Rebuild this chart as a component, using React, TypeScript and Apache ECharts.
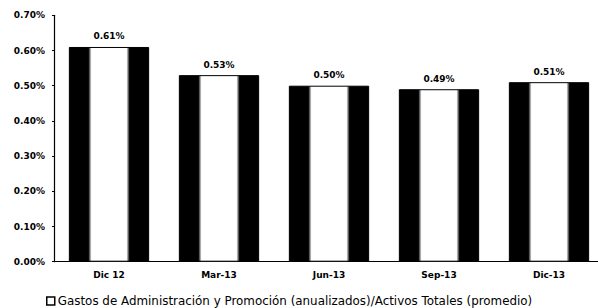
import React, { useEffect, useRef } from "react";
import * as echarts from "echarts";

const categories = ["Dic 12", "Mar-13", "Jun-13", "Sep-13", "Dic-13"];
const values = [0.61, 0.53, 0.5, 0.49, 0.51];
const seriesName =
  "Gastos de Administración y Promoción (anualizados)/Activos Totales (promedio)";

export default function App() {
  const ref = useRef<HTMLDivElement>(null);
  useEffect(() => {
    if (!ref.current) return;
    const chart = echarts.init(ref.current, null, { renderer: "svg" });
    const grad = new echarts.graphic.LinearGradient(0, 0, 1, 0, [
      { offset: 0, color: "#000" },
      { offset: 0.24, color: "#000" },
      { offset: 0.28, color: "#fff" },
      { offset: 0.72, color: "#fff" },
      { offset: 0.76, color: "#000" },
      { offset: 1, color: "#000" },
    ]);
    chart.setOption({
      animation: false,
      backgroundColor: "#fff",
      grid: { left: 54, right: 0, top: 15.3, bottom: 46.3, containLabel: false },
      legend: {
        left: 41,
        top: 290,
        itemWidth: 8,
        itemHeight: 8,
        itemGap: 3,
        textStyle: { fontFamily: "DejaVu Sans", fontSize: 11.9, color: "#000", padding: [0, 0, 0, -2] },
        data: [
          {
            name: seriesName,
            icon: "rect",
            itemStyle: { color: "#fff", borderColor: "#000", borderWidth: 1.5 },
          },
        ],
      },
      xAxis: {
        type: "category",
        data: categories,
        axisLine: { show: true, lineStyle: { color: "#000", width: 1 } },
        axisTick: { show: false },
        axisLabel: {
          fontFamily: "DejaVu Sans",
          fontSize: 9,
          fontWeight: "bold",
          color: "#000",
          margin: 9,
        },
      },
      yAxis: {
        type: "value",
        min: 0,
        max: 0.7,
        interval: 0.1,
        splitLine: { show: false },
        axisLine: { show: true, lineStyle: { color: "#000", width: 1.2 } },
        axisTick: { show: true, length: 2, lineStyle: { color: "#000" } },
        axisLabel: {
          fontFamily: "DejaVu Sans",
          fontSize: 9,
          fontWeight: "bold",
          color: "#000",
          margin: 9,
          formatter: (v: number) => v.toFixed(2) + "%",
        },
      },
      series: [
        {
          name: seriesName,
          type: "bar",
          data: values,
          barWidth: "73%",
          itemStyle: { color: grad, borderColor: "#000", borderWidth: 1 },
          label: {
            show: true,
            position: "top",
            distance: 6,
            fontFamily: "DejaVu Sans",
            fontSize: 9,
            fontWeight: "bold",
            color: "#000",
            formatter: (p: any) => p.value.toFixed(2) + "%",
          },
        },
      ],
    });
    return () => chart.dispose();
  }, []);
  return (
    <div
      style={{ position: "fixed", left: 0, top: 0, width: 598, height: 308, overflow: "hidden", background: "#fff" }}
    >
      <div ref={ref} style={{ width: 604, height: 308 }} />
    </div>
  );
}
